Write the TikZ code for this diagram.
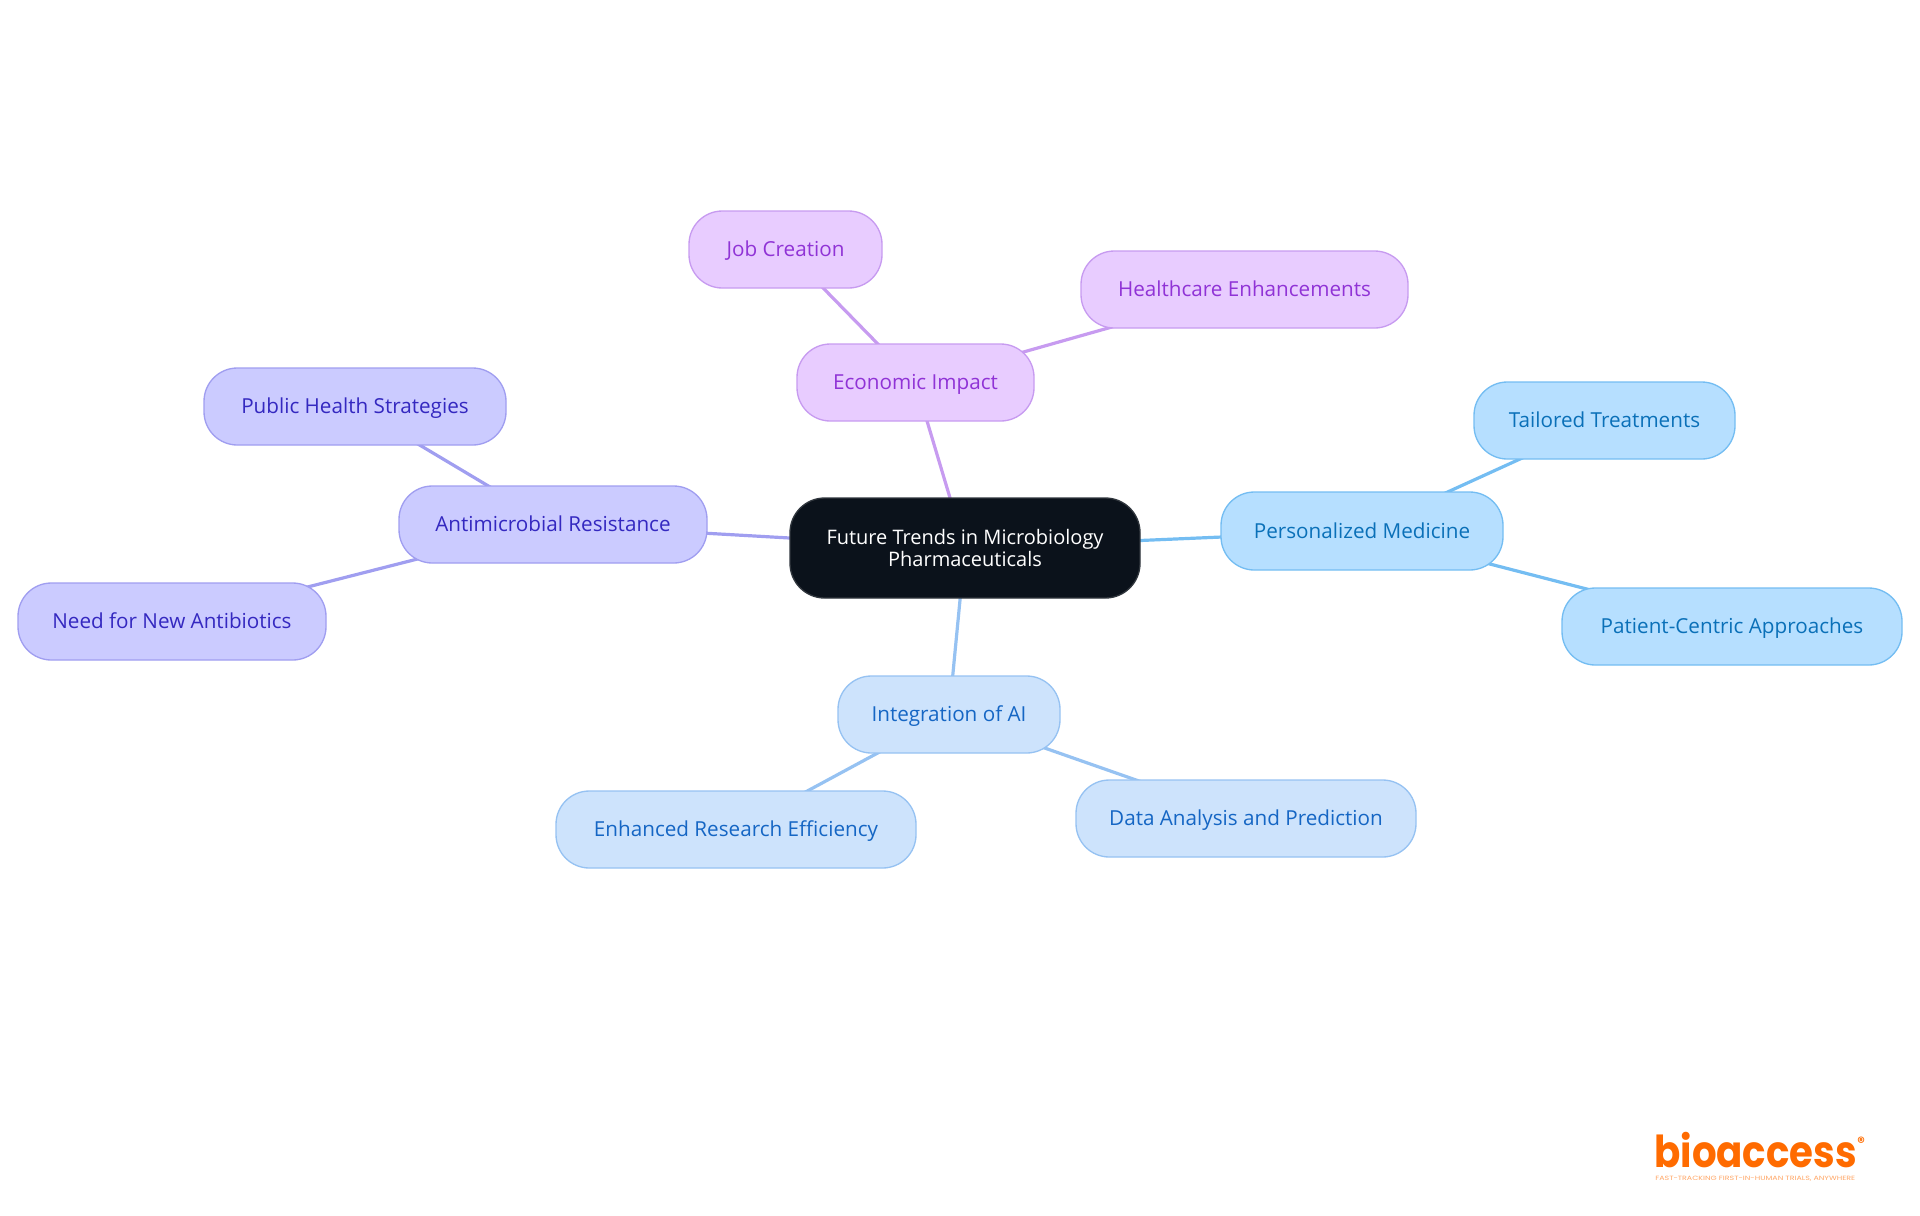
\documentclass[tikz,border=0pt]{standalone}
\usepackage{fontspec}
\usepackage{graphicx}
\setmainfont{Open Sans}
\newfontfamily\logofont{Poppins}
\usetikzlibrary{backgrounds}
\definecolor{rootfill}{HTML}{0B121B}
\definecolor{bluefill}{HTML}{B6DFFF}\definecolor{blueline}{HTML}{74BDF2}\definecolor{bluetext}{HTML}{0A70B8}
\definecolor{skyfill}{HTML}{CDE3FC}\definecolor{skyline}{HTML}{96C2F2}\definecolor{skytext}{HTML}{1566C4}
\definecolor{indfill}{HTML}{CBCBFF}\definecolor{indline}{HTML}{A09EF0}\definecolor{indtext}{HTML}{3428C0}
\definecolor{purfill}{HTML}{E8CCFF}\definecolor{purline}{HTML}{C79BF0}\definecolor{purtext}{HTML}{9033D6}
\definecolor{logoorange}{HTML}{FF6B00}
\tikzset{
 x=0.75pt,y=-0.75pt,
 mindbase/.style={rounded corners=25pt,line width=1pt,align=center,inner sep=0pt},
 mind/.style={mindbase,text height=13.5pt,text depth=3pt,font=\fontsize{15.5}{15.5}\selectfont},
 rootbox/.style={mindbase,draw=rootfill!85!white,fill=rootfill,text=white,rounded corners=26pt,
   font=\fontsize{15}{17}\selectfont},
 bluebox/.style={mind,draw=blueline,fill=bluefill,text=bluetext},
 skybox/.style={mind,draw=skyline,fill=skyfill,text=skytext},
 indbox/.style={mind,draw=indline,fill=indfill,text=indtext},
 purbox/.style={mind,draw=purline,fill=purfill,text=purtext},
 link/.style={line width=2.4pt},
}
\newcommand{\mnode}[7]{% style name text x1 y1 x2 y2
  \pgfmathsetmacro{\mw}{(#6-#4)*0.75}\pgfmathsetmacro{\mh}{(#7-#5)*0.75}
  \node[#1,minimum width=\mw pt,minimum height=\mh pt] (#2) at ({(#4+#6)/2},{(#5+#7)/2}) {#3};}
\begin{document}
\begin{tikzpicture}
\useasboundingbox (0,0) rectangle (1920,1215);
\mnode{rootbox}{root}{Future Trends in Microbiology\\Pharmaceuticals}{790}{498}{1140}{598}
\mnode{bluebox}{pm}{Personalized Medicine}{1221}{492}{1503}{570}
\mnode{bluebox}{tt}{Tailored Treatments}{1474}{382}{1735}{459}
\mnode{bluebox}{pc}{Patient-Centric Approaches}{1562}{588}{1902}{665}
\mnode{skybox}{ai}{Integration of AI}{838}{676}{1060}{753}
\mnode{skybox}{er}{Enhanced Research Efficiency}{556}{791}{916}{868}
\mnode{skybox}{da}{Data Analysis and Prediction}{1076}{780}{1416}{857}
\mnode{indbox}{am}{Antimicrobial Resistance}{399}{486}{707}{563}
\mnode{indbox}{ph}{Public Health Strategies}{204}{368}{506}{445}
\mnode{indbox}{na}{Need for New Antibiotics}{18}{583}{326}{660}
\mnode{purbox}{ec}{Economic Impact}{797}{344}{1034}{421}
\mnode{purbox}{jc}{Job Creation}{689}{211}{882}{288}
\mnode{purbox}{he}{Healthcare Enhancements}{1081}{251}{1408}{328}
\begin{scope}[on background layer]
 \draw[link,blueline] (root.center) -- (pm.center);
 \draw[link,blueline] (pm.center) -- (tt.center);
 \draw[link,blueline] (pm.center) -- (pc.center);
 \draw[link,skyline] (root.center) -- (ai.center);
 \draw[link,skyline] (ai.center) -- (er.center);
 \draw[link,skyline] (ai.center) -- (da.center);
 \draw[link,indline] (root.center) -- (am.center);
 \draw[link,indline] (am.center) -- (ph.center);
 \draw[link,indline] (am.center) -- (na.center);
 \draw[link,purline] (root.center) -- (ec.center);
 \draw[link,purline] (ec.center) -- (jc.center);
 \draw[link,purline] (ec.center) -- (he.center);
\end{scope}
\node[inner sep=0pt,anchor=base west,text=logoorange,font=\logofont\bfseries\fontsize{33}{33}\selectfont] (logo) at (1654,1167) {\scalebox{0.88}[1]{bioaccess}};
\node[inner sep=0pt,anchor=center,text=logoorange,font=\logofont\bfseries\fontsize{11}{11}\selectfont] (reg) at (1861,1142) {®};
\node[inner sep=0pt,anchor=base west,text=logoorange!60!white,font=\logofont\fontsize{4.6}{4.6}\selectfont] (tag) at (1655,1180) {\scalebox{1.29}[1]{FAST-TRACKING FIRST-IN-HUMAN TRIALS, ANYWHERE}};
\end{tikzpicture}
\end{document}
